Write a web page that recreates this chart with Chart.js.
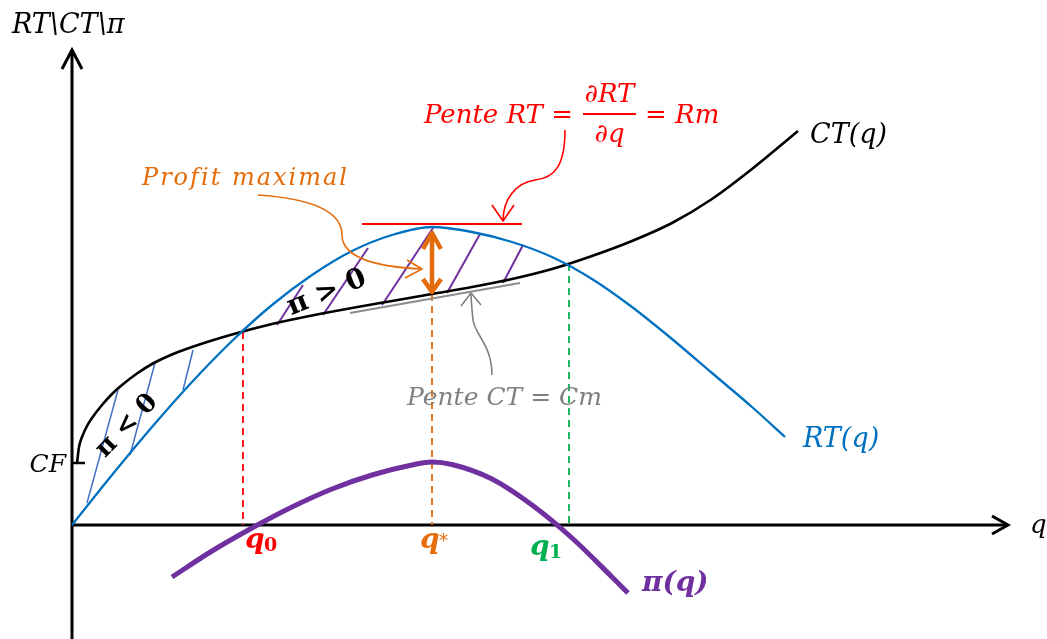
<!DOCTYPE html>
<html>
<head>
<meta charset="utf-8">
<script src="https://cdn.jsdelivr.net/npm/chart.js@4.4.0/dist/chart.umd.min.js"></script>
<style>
html, body { margin: 0; padding: 0; background: #fff; }
#wrap { width: 1047px; height: 639px; }
</style>
</head>
<body>
<div id="wrap"><canvas id="myChart"></canvas></div>
<script>
// recette totale RT(q)
var qRT = [0, 4, 8, 12, 16, 20, 24, 28, 32, 36, 40, 44, 48, 52, 56, 60, 64, 68, 71.3];
var valRT = [0, 5.0, 9.8, 14.3, 18.4, 22.0, 25.0, 27.4, 29.0, 29.8, 29.3, 28.3, 26.8, 24.6, 21.8, 18.6, 15.2, 11.8, 8.8];
// cout total CT(q)
var qCT = [0.5, 0.7, 1, 1.5, 2, 3, 4, 5, 6.5, 8, 10, 12, 16, 20, 24, 28, 32, 36, 40, 44, 48, 52, 56, 60, 64, 68, 72.6];
var valCT = [6.2, 7.8, 8.8, 9.9, 10.7, 12.0, 13.1, 14.0, 15.15, 16.1, 17.05, 17.8, 19.05, 20.1, 20.95, 21.7, 22.4, 23.1, 23.8, 24.6, 25.6, 26.9, 28.4, 30.2, 32.6, 35.6, 39.4];
// profit pi(q)
var qPi = [10, 14, 18, 22, 26, 30, 34, 36, 38, 42, 46, 50, 54, 55.6];
var valPi = [-5.2, -2.6, -0.3, 1.8, 3.6, 5.0, 6.0, 6.3, 6.05, 4.6, 2.0, -1.3, -5.2, -6.8];
// niveaux remarquables
var CF = 6.2;
var q0 = 17.1, qStar = 36.0, q1 = 49.7;
var ctAtQ0 = 19.3, ctAtQStar = 23.1, ctAtQ1 = 26.1;

function pts(xs, ys) {
    return xs.map(function (x, i) { return { x: x, y: ys[i] }; });
}

var ORANGE = '#E46C0A', RED = '#FF0000', GREEN = '#00B050', PURPLE = '#7030A0',
    BLUE = '#0070C0', GRAY = '#808080';
var MATH = '"DejaVu Serif", "Liberation Serif", serif';

var extras = {
    id: 'extras',
    beforeDatasetsDraw: function (chart) {
        var ctx = chart.ctx, X = chart.scales.x, Y = chart.scales.y;
        function P(x, y) { return [X.getPixelForValue(x), Y.getPixelForValue(y)]; }
        function line(list, color, width, dash) {
            ctx.save();
            ctx.strokeStyle = color; ctx.lineWidth = width;
            ctx.setLineDash(dash || []);
            ctx.beginPath();
            list.forEach(function (p, i) {
                var q = P(p[0], p[1]);
                if (i == 0) ctx.moveTo(q[0], q[1]); else ctx.lineTo(q[0], q[1]);
            });
            ctx.stroke();
            ctx.restore();
        }
        // axes
        line([[0, Y.min], [0, 47.5]], '#000', 3);
        line([[-1.0, 45.6], [0, 47.5], [1.0, 45.6]], '#000', 3);
        line([[0, 0], [93.6, 0]], '#000', 3);
        line([[92.0, 0.9], [93.6, 0], [92.0, -0.9]], '#000', 3);
        // CF tick
        line([[0, CF], [1.3, CF]], '#000', 2.5);
        // dashed verticals
        line([[q0, ctAtQ0], [q0, 0]], RED, 1.8, [7, 5]);
        line([[qStar, ctAtQStar], [qStar, 0]], ORANGE, 1.8, [7, 5]);
        line([[q1, ctAtQ1], [q1, 0]], GREEN, 1.8, [7, 5]);
        // hachures pi < 0
        line([[1.5, 2.2], [4.6, 13.5]], '#4472C4', 1.5);
        line([[5.8, 7.0], [8.3, 16.2]], '#4472C4', 1.5);
        line([[11.1, 13.5], [12.1, 17.5]], '#4472C4', 1.5);
        // hachures pi > 0
        line([[20.5, 20.0], [23.1, 24.0]], PURPLE, 2);
        line([[25.1, 21.0], [29.6, 27.7]], PURPLE, 2);
        line([[31.0, 22.0], [36.1, 29.7]], PURPLE, 2);
        line([[37.5, 23.2], [40.8, 29.1]], PURPLE, 2);
        line([[43.1, 24.2], [45.1, 28.0]], PURPLE, 2);
        // tangente CT
        line([[27.8, 21.2], [44.8, 24.2]], '#8C8C8C', 2);
    },
    afterDatasetsDraw: function (chart) {
        var ctx = chart.ctx, X = chart.scales.x, Y = chart.scales.y;
        function P(x, y) { return [X.getPixelForValue(x), Y.getPixelForValue(y)]; }
        function line(list, color, width) {
            ctx.save();
            ctx.strokeStyle = color; ctx.lineWidth = width;
            ctx.lineJoin = 'round';
            ctx.beginPath();
            list.forEach(function (p, i) {
                var q = P(p[0], p[1]);
                if (i == 0) ctx.moveTo(q[0], q[1]); else ctx.lineTo(q[0], q[1]);
            });
            ctx.stroke();
            ctx.restore();
        }
        function curve(start, segs, color, width) {
            ctx.save();
            ctx.strokeStyle = color; ctx.lineWidth = width;
            ctx.beginPath();
            var s = P(start[0], start[1]);
            ctx.moveTo(s[0], s[1]);
            segs.forEach(function (g) {
                var a = P(g[0], g[1]), b = P(g[2], g[3]), c = P(g[4], g[5]);
                ctx.bezierCurveTo(a[0], a[1], b[0], b[1], c[0], c[1]);
            });
            ctx.stroke();
            ctx.restore();
        }
        function text(s, x, y, font, color, align, spacing) {
            var p = P(x, y);
            ctx.save();
            ctx.font = font; ctx.fillStyle = color;
            ctx.textAlign = align || 'left'; ctx.textBaseline = 'alphabetic';
            if (spacing) ctx.letterSpacing = spacing;
            ctx.fillText(s, p[0], p[1]);
            ctx.restore();
        }
        function rotText(s, x, y, deg, font, color) {
            var p = P(x, y);
            ctx.save();
            ctx.translate(p[0], p[1]);
            ctx.rotate(deg * Math.PI / 180);
            ctx.font = font; ctx.fillStyle = color;
            ctx.textAlign = 'center'; ctx.textBaseline = 'middle';
            ctx.fillText(s, 0, 0);
            ctx.restore();
        }

        // tangente RT (rouge) + fleche
        line([[29.0, 30.1], [45.0, 30.1]], RED, 2);
        curve([49.3, 39.5], [[49.3, 36.0, 48.3, 34.7, 46.3, 34.5], [44.3, 34.2, 43.1, 32.5, 43.1, 30.4]], RED, 1.6);
        line([[42.0, 32.0], [43.1, 30.4], [44.2, 32.0]], RED, 1.6);

        // double fleche profit maximal
        line([[qStar, 29.3], [qStar, 23.3]], ORANGE, 4.5);
        line([[35.1, 27.6], [qStar, 29.2], [36.9, 27.6]], ORANGE, 4.5);
        line([[35.1, 24.6], [qStar, 23.3], [36.9, 24.6]], ORANGE, 4.5);
        // fleche "Profit maximal"
        curve([18.6, 33.0], [[24.5, 32.6, 27.0, 31.2, 27.0, 29.0], [27.0, 26.5, 31.0, 25.8, 35.0, 25.6]], ORANGE, 1.6);
        line([[33.5, 26.5], [35.0, 25.6], [33.3, 24.7]], ORANGE, 1.6);

        // fleche grise Cm
        curve([42.0, 15.0], [[42.0, 18.0, 40.3, 19.0, 40.1, 20.5], [40.0, 21.5, 39.9, 22.5, 39.9, 23.2]], GRAY, 1.6);
        line([[38.9, 21.9], [39.9, 23.2], [40.9, 22.0]], GRAY, 1.6);

        // textes
        text('RT\\CT\\\u03C0', -6.0, 49.2, 'italic 27px ' + MATH, '#000');
        text('CF', -0.6, 5.3, 'italic 25px ' + MATH, '#000', 'right');
        text('CT(q)', 73.8, 38.2, 'italic 27px ' + MATH, '#000');
        text('RT(q)', 73.1, 7.8, 'italic 27px ' + MATH, BLUE);
        text('q', 95.8, -0.8, 'italic 26px ' + MATH, '#000');

        text('Pente RT =', 50.1, 40.2, 'italic 26px ' + MATH, RED, 'right');
        text('\u2202RT', 53.75, 42.3, 'italic 26px ' + MATH, RED, 'center');
        text('\u2202q', 53.75, 38.3, 'italic 26px ' + MATH, RED, 'center');
        line([[51.1, 41.1], [56.4, 41.1]], RED, 2);
        text('= Rm', 57.3, 40.2, 'italic 26px ' + MATH, RED);

        text('Profit maximal', 7.0, 34.0, 'italic 24px ' + MATH, ORANGE, 'left', '2px');
        text('Pente CT = Cm', 33.5, 12.0, 'italic 25px ' + MATH, GRAY);

        rotText('\u03C0 > 0', 25.5, 23.2, -22, 'bold 28px ' + MATH, '#000');
        rotText('\u03C0 < 0', 5.5, 9.9, -46, 'bold 26px ' + MATH, '#000');

        text('q', 17.3, -2.3, 'bold italic 28px ' + MATH, RED);
        text('0', 19.2, -2.6, 'bold 19px ' + MATH, RED);
        text('q', 34.8, -2.3, 'bold italic 28px ' + MATH, ORANGE);
        text('*', 36.7, -2.2, '18px ' + MATH, ORANGE);
        text('q', 45.8, -3.0, 'bold italic 28px ' + MATH, GREEN);
        text('1', 47.7, -3.3, 'bold 19px ' + MATH, GREEN);
        text('\u03C0(q)', 57.0, -6.6, 'bold italic 28px ' + MATH, PURPLE);
    }
};

var canvas = document.getElementById('myChart');
var ctx = canvas.getContext('2d');
var myChart = new Chart(ctx, {
    type: 'scatter',
    data: {
        datasets: [{
            label: 'RT(q)',
            data: pts(qRT, valRT),
            showLine: true,
            borderColor: BLUE,
            borderWidth: 2.3,
            pointRadius: 0,
            cubicInterpolationMode: 'monotone'
        }, {
            label: 'CT(q)',
            data: pts(qCT, valCT),
            showLine: true,
            borderColor: '#000',
            borderWidth: 2.6,
            pointRadius: 0,
            cubicInterpolationMode: 'monotone'
        }, {
            label: '\u03C0(q)',
            data: pts(qPi, valPi),
            showLine: true,
            borderColor: PURPLE,
            borderWidth: 5,
            pointRadius: 0,
            cubicInterpolationMode: 'monotone'
        }]
    },
    options: {
        responsive: true,
        maintainAspectRatio: false,
        animation: false,
        layout: { padding: 0 },
        scales: {
            x: { type: 'linear', min: -7.2, max: 97.5, display: false },
            y: { type: 'linear', min: -11.4, max: 52.5, display: false }
        },
        plugins: {
            legend: { display: false },
            tooltip: { enabled: false }
        }
    },
    plugins: [extras]
});
</script>
</body>
</html>
